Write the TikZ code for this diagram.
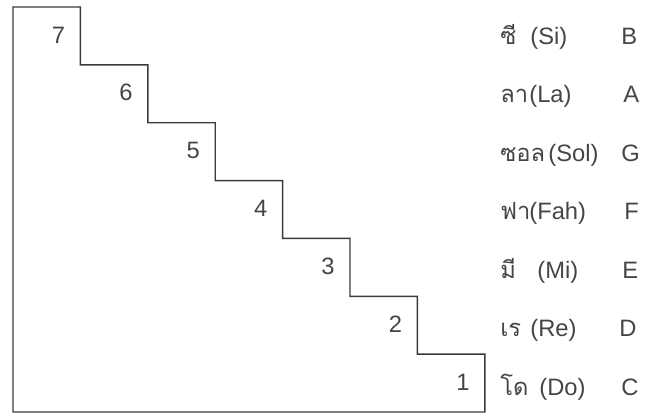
\documentclass[tikz,border=0pt]{standalone}
\usepackage{fontspec}
\setmainfont{Liberation Sans}
\newfontfamily\thaifont[Script=Thai]{Loma}
\definecolor{ink}{HTML}{3A3A3A}
\definecolor{label}{HTML}{454545}

\begin{document}
\begin{tikzpicture}[
    x=0.02cm, y=-0.02cm,
    stair/.style={draw=ink, line width=0.8pt},
    num/.style={anchor=base east, inner sep=0pt, font=\fontsize{13.5}{15}\selectfont, text=label},
    thai/.style={anchor=base west, inner sep=0pt, font=\fontsize{13.5}{15}\selectfont\thaifont, text=label},
    latin/.style={anchor=base west, inner sep=0pt, font=\fontsize{13.5}{15}\selectfont, text=label}
]
\useasboundingbox (0,0) rectangle (648,413);

% Staircase outline
\draw[stair] (13,412) -- (13,7)
    \foreach \i in {1,...,7} { -- ++(67.4,0) -- ++(0,57.86) } -- cycle;

% Step numbers
\foreach \n [count=\k from 0] in {7,6,5,4,3,2,1}
    \node[num] (step\n) at ({13+67.4*(\k+1)-15}, {43+57.86*\k}) {\n};

% Note names
\foreach \th/\lat/\lx/\note/\nx [count=\k from 0] in {
    ซี/(Si)/530/B/621,
    ลา/(La)/529/A/623,
    ซอล/(Sol)/548/G/621,
    ฟา/(Fah)/529/F/624,
    มี/(Mi)/537/E/622,
    เร/(Re)/530/D/619,
    โด/(Do)/539/C/621}
{
    \node[thai] (thai\k) at (500, {44+58.5*\k}) {\th};
    \node[latin] (solf\k) at (\lx, {44+58.5*\k}) {\lat};
    \node[latin] (note\k) at (\nx, {44+58.5*\k}) {\note};
}

\end{tikzpicture}
\end{document}
